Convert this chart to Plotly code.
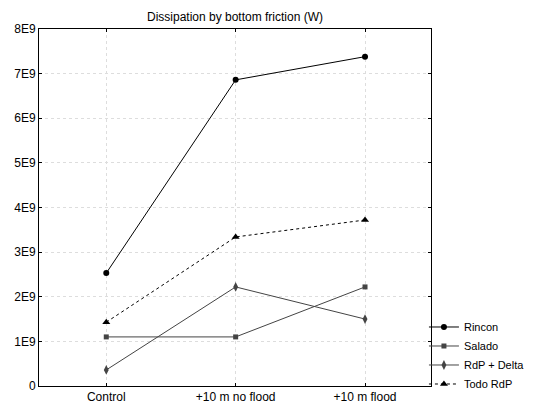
import plotly.graph_objects as go

categories = ["Control", "+10 m no flood", "+10 m flood"]
rincon = [2.53e9, 6.86e9, 7.38e9]
salado = [1.10e9, 1.10e9, 2.22e9]
rdp_delta = [0.36e9, 2.22e9, 1.50e9]
todo_rdp = [1.43e9, 3.34e9, 3.72e9]
y_ticks = [0, 1e9, 2e9, 3e9, 4e9, 5e9, 6e9, 7e9, 8e9]
y_tick_labels = ["0", "1E9", "2E9", "3E9", "4E9", "5E9", "6E9", "7E9", "8E9"]

series = [
    ("Rincon", rincon, "#000000", "solid", "circle", 6),
    ("Salado", salado, "#444444", "solid", "square", 5),
    ("RdP + Delta", rdp_delta, "#444444", "solid", "diamond-tall", 7),
    ("Todo RdP", todo_rdp, "#000000", "dot", "triangle-up", 7),
]

fig = go.Figure()
for name, vals, color, dash, sym, size in series:
    fig.add_trace(go.Scatter(
        x=list(range(len(categories))), y=vals, name=name, mode="lines+markers",
        line=dict(color=color, width=1, dash=dash),
        marker=dict(symbol=sym, size=size, color=color),
    ))

fig.update_layout(
    width=525, height=396,
    margin=dict(l=31, r=102, t=21, b=18, autoexpand=False),
    paper_bgcolor="white", plot_bgcolor="white",
    font=dict(family="Arial, Liberation Sans, sans-serif", size=12, color="#000000"),
    title=dict(text="Dissipation by bottom friction (W)", xref="paper", x=0.5,
               xanchor="center", y=0.978, yanchor="middle", font=dict(size=12)),
    legend=dict(x=0.982, xanchor="left", y=-0.035, yanchor="bottom",
                font=dict(size=11), bgcolor="rgba(0,0,0,0)",
                tracegroupgap=0, itemwidth=30),
    showlegend=True,
)
grid = "#dddddd"
fig.update_xaxes(
    range=[-0.52, 2.51], tickmode="array", tickvals=list(range(len(categories))),
    ticktext=categories, showgrid=True, gridcolor=grid, griddash="dot", gridwidth=1,
    showline=True, linecolor="black", linewidth=1, mirror="ticks",
    ticks="inside", ticklen=3, tickcolor="black", zeroline=False, automargin=False,
)
fig.update_yaxes(
    range=[0, 8e9], tickmode="array", tickvals=y_ticks, ticktext=y_tick_labels,
    showgrid=True, gridcolor=grid, griddash="dot", gridwidth=1,
    showline=True, linecolor="black", linewidth=1, mirror="ticks",
    ticks="inside", ticklen=3, tickcolor="black", zeroline=False, automargin=False,
)
fig.write_html("out.html")
